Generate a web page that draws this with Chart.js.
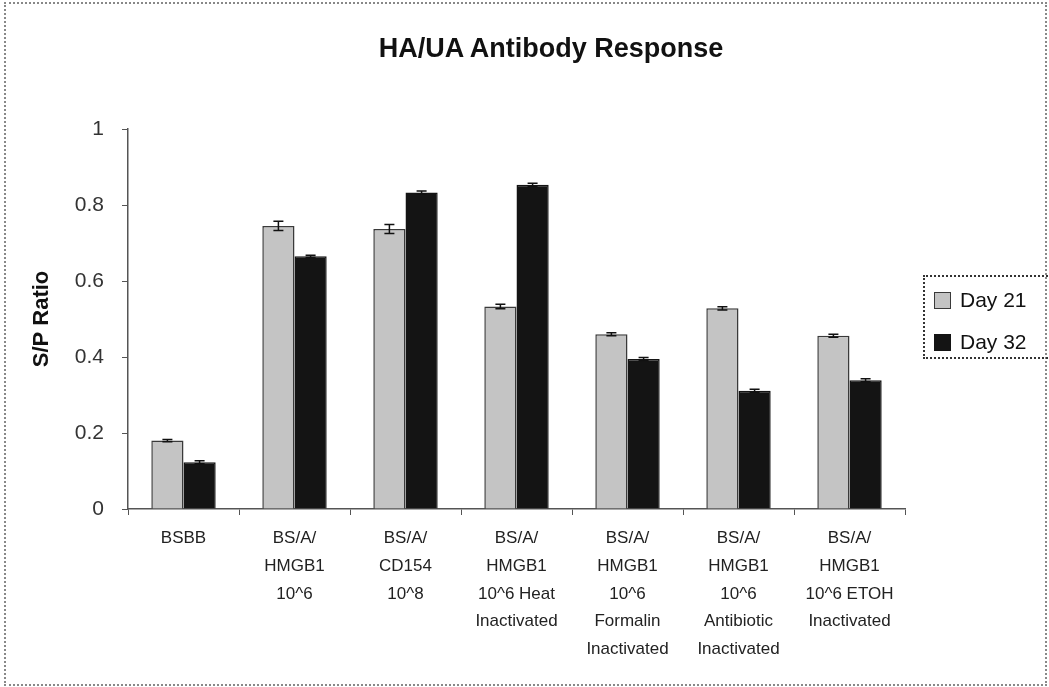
<!DOCTYPE html>
<html lang="en">
<head>
  <meta charset="UTF-8" />
  <title>HA/UA Antibody Response</title>
  <script src="https://cdn.jsdelivr.net/npm/chart.js"></script>
  <style>
    html, body { margin: 0; padding: 0; background: #fff; }
    #frame {
      position: relative;
      width: 1049px;
      height: 687px;
      overflow: hidden;
      font-family: 'Liberation Sans', Arial, sans-serif;
    }
    #border {
      position: absolute;
      left: 4px; top: 2px; right: 2px; bottom: 1px;
      border: 2px dotted #888;
    }
    #chartBox { position: absolute; left: 0; top: 0; width: 1049px; height: 687px; }
    #title {
      position: absolute;
      top: 33px; left: 551px;
      transform: translateX(-50%);
      font-size: 27px; font-weight: bold; color: #111;
      white-space: nowrap;
    }
    #legend {
      position: absolute;
      left: 923px; top: 275px;
      width: 140px; height: 84px;
      border: 2px dotted #333;
      box-sizing: border-box;
      font-size: 21px; color: #111;
    }
    .item { position: absolute; left: 9px; display: flex; align-items: center; }
    .swatch { width: 17px; height: 17px; margin-right: 9px; box-sizing: border-box; }
  </style>
</head>
<body>
  <div id="frame">
    <div id="border"></div>
    <div id="chartBox"><canvas id="chart"></canvas></div>
    <div id="title">HA/UA Antibody Response</div>
    <div id="legend"></div>
  </div>

  <script>
    const categories = [
      ["BSBB"],
      ["BS/A/", "HMGB1", "10^6"],
      ["BS/A/", "CD154", "10^8"],
      ["BS/A/", "HMGB1", "10^6 Heat", "Inactivated"],
      ["BS/A/", "HMGB1", "10^6", "Formalin", "Inactivated"],
      ["BS/A/", "HMGB1", "10^6", "Antibiotic", "Inactivated"],
      ["BS/A/", "HMGB1", "10^6 ETOH", "Inactivated"]
    ];
    const seriesNames = ["Day 21", "Day 32"];
    const day21 = [0.18, 0.745, 0.737, 0.533, 0.46, 0.528, 0.456];
    const day32 = [0.123, 0.665, 0.833, 0.853, 0.395, 0.311, 0.339];
    const day21Err = [0.003, 0.012, 0.012, 0.006, 0.004, 0.004, 0.004];
    const day32Err = [0.004, 0.003, 0.004, 0.004, 0.004, 0.004, 0.004];
    const yTicks = [0, 0.2, 0.4, 0.6, 0.8, 1];

    const fills = ["#c4c4c4", "#141414"];
    const edges = ["#3a3a3a", "#141414"];

    // small error bars drawn over each bar
    const errorBars = {
      id: "errorBars",
      afterDatasetsDraw(chart) {
        const ctx = chart.ctx;
        const y = chart.scales.y;
        const errs = [day21Err, day32Err];
        ctx.save();
        ctx.strokeStyle = "#111";
        ctx.lineWidth = 1.5;
        chart.data.datasets.forEach((ds, di) => {
          chart.getDatasetMeta(di).data.forEach((bar, i) => {
            const v = ds.data[i], e = errs[di][i];
            const top = y.getPixelForValue(v + e), bot = y.getPixelForValue(v - e);
            ctx.beginPath();
            ctx.moveTo(bar.x, top); ctx.lineTo(bar.x, bot);
            ctx.moveTo(bar.x - 5, top); ctx.lineTo(bar.x + 5, top);
            ctx.moveTo(bar.x - 5, bot); ctx.lineTo(bar.x + 5, bot);
            ctx.stroke();
          });
        });
        ctx.restore();
      }
    };

    new Chart(document.getElementById("chart"), {
      type: "bar",
      data: {
        labels: categories,
        datasets: [
          { label: seriesNames[0], data: day21, backgroundColor: fills[0], borderColor: edges[0], borderWidth: 1.5 },
          { label: seriesNames[1], data: day32, backgroundColor: fills[1], borderColor: edges[1], borderWidth: 1.5 }
        ]
      },
      options: {
        responsive: true,
        maintainAspectRatio: false,
        animation: false,
        layout: { padding: { top: 129, right: 144, bottom: 0, left: 0 } },
        datasets: { bar: { categoryPercentage: 0.58, barPercentage: 1.0 } },
        plugins: {
          legend: { display: false },
          tooltip: { enabled: false }
        },
        scales: {
          x: {
            afterFit: s => { s.height = 178; },
            grid: { drawOnChartArea: false, drawTicks: true, tickLength: 6, color: "#555" },
            border: { color: "#555", width: 1.5, dash: [2, 1] },
            ticks: {
              color: "#222",
              padding: 10,
              maxRotation: 0,
              autoSkip: false,
              font: { family: "'Liberation Sans', Arial, sans-serif", size: 17, lineHeight: 1.62 }
            }
          },
          y: {
            min: 0,
            max: 1,
            afterFit: s => { s.width = 128; },
            afterBuildTicks: s => { s.ticks = yTicks.map(v => ({ value: v })); },
            grid: { drawOnChartArea: false, drawTicks: true, tickLength: 6, color: "#555" },
            border: { color: "#555", width: 1.5, dash: [2, 1] },
            title: {
              display: true,
              text: "S/P Ratio",
              color: "#111",
              padding: { top: 29, bottom: 0 },
              font: { family: "'Liberation Sans', Arial, sans-serif", size: 22, weight: "bold" }
            },
            ticks: {
              color: "#333",
              padding: 18,
              font: { family: "'Liberation Sans', Arial, sans-serif", size: 21 },
              callback: v => String(v)
            }
          }
        }
      },
      plugins: [errorBars]
    });

    // legend box on the right
    const legend = document.getElementById("legend");
    seriesNames.forEach((name, i) => {
      const item = document.createElement("div");
      item.className = "item";
      item.style.top = (i === 0 ? 11 : 53) + "px";
      item.innerHTML = `<span class="swatch" style="background:${fills[i]};border:1.5px solid ${edges[i]}"></span>${name}`;
      legend.appendChild(item);
    });
  </script>
</body>
</html>
